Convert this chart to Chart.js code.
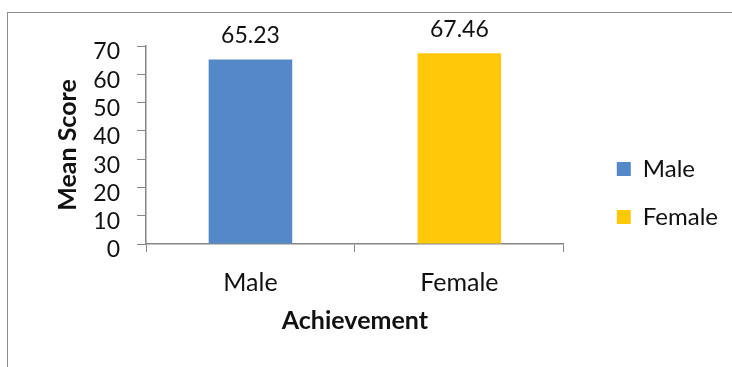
<!DOCTYPE html>
<html>
<head>
<meta charset="utf-8">
<script src="https://cdn.jsdelivr.net/npm/chart.js@4"></script>
<style>
  html, body { margin: 0; padding: 0; background: #ffffff; }
  #wrap { position: relative; width: 732px; height: 367px; overflow: hidden; }
  #frame { position: absolute; left: 7px; top: 12px; width: 800px; height: 400px; border: 1px solid #8c8c8c; }
  #chart { position: absolute; left: 0; top: 0; }
</style>
</head>
<body>
<div id="wrap">
  <div id="frame"></div>
  <canvas id="chart" width="732" height="367"></canvas>
</div>
<script>
'use strict';

// ── Data ─────────────────────────────────────────────────────────────────────
var categories   = ['Male', 'Female'];
var seriesNames  = ['Male', 'Female'];
var maleValues   = [65.23, null];
var femaleValues = [null, 67.46];
var yTicks       = [0, 10, 20, 30, 40, 50, 60, 70];

// ── Style ────────────────────────────────────────────────────────────────────
var BLUE   = '#5588c8';
var YELLOW = '#ffc90a';
var AXIS   = '#868686';
var FONT   = "Lato, 'Open Sans', sans-serif";

// value labels above each bar
var barLabels = {
    id: 'barLabels',
    afterDatasetsDraw: function (chart) {
        var ctx = chart.ctx;
        ctx.save();
        ctx.font = '23px ' + FONT;
        ctx.fillStyle = '#111111';
        ctx.textAlign = 'center';
        ctx.textBaseline = 'bottom';
        chart.data.datasets.forEach(function (ds, di) {
            var meta = chart.getDatasetMeta(di);
            meta.data.forEach(function (bar, i) {
                if (ds.data[i] === null) { return; }
                ctx.fillText(ds.data[i].toFixed(2), bar.x, bar.y - 12);
            });
        });
        ctx.restore();
    }
};

new Chart(document.getElementById('chart').getContext('2d'), {
    type: 'bar',
    data: {
        labels: categories,
        datasets: [
            { label: seriesNames[0], data: maleValues,   backgroundColor: BLUE },
            { label: seriesNames[1], data: femaleValues, backgroundColor: YELLOW }
        ]
    },
    options: {
        responsive: false,
        animation: false,
        grouped: false,
        categoryPercentage: 0.5,
        barPercentage: 0.8,
        layout: { padding: { left: 0, top: 46, right: 4, bottom: 27 } },
        plugins: {
            legend: {
                position: 'right',
                maxWidth: 220,
                labels: {
                    boxWidth: 14,
                    boxHeight: 14,
                    padding: 24,
                    color: '#111111',
                    font: { family: FONT, size: 24 }
                }
            },
            tooltip: { enabled: false }
        },
        scales: {
            x: {
                grid: { drawOnChartArea: false, offset: true, tickLength: 8, color: AXIS },
                border: { color: AXIS, width: 1.5 },
                ticks: { color: '#111111', padding: 16, font: { family: FONT, size: 25 } },
                title: {
                    display: true,
                    text: 'Achievement',
                    color: '#111111',
                    padding: { top: 0, bottom: 4 },
                    font: { family: FONT, size: 25, weight: 'bold' }
                },
                afterFit: function (s) { s.height = 96; }
            },
            y: {
                min: 0,
                max: 70,
                afterBuildTicks: function (s) {
                    s.ticks = yTicks.map(function (v) { return { value: v }; });
                },
                grid: { drawOnChartArea: false, tickLength: 9, color: AXIS },
                border: { color: AXIS, width: 1.5 },
                ticks: {
                    color: '#111111',
                    padding: 17,
                    labelOffset: 6,
                    autoSkip: false,
                    font: { family: FONT, size: 23 }
                },
                title: {
                    display: true,
                    text: 'Mean Score',
                    color: '#111111',
                    padding: { top: 53, bottom: 0 },
                    font: { family: FONT, size: 25, weight: 'bold' }
                },
                afterFit: function (s) { s.width = 146; }
            },
            // empty spacer between plot and legend
            gap: {
                type: 'linear',
                position: 'right',
                display: true,
                grid: { display: false },
                border: { display: false },
                ticks: { display: false },
                afterFit: function (s) { s.width = 29; }
            }
        }
    },
    plugins: [barLabels]
});
</script>
</body>
</html>
